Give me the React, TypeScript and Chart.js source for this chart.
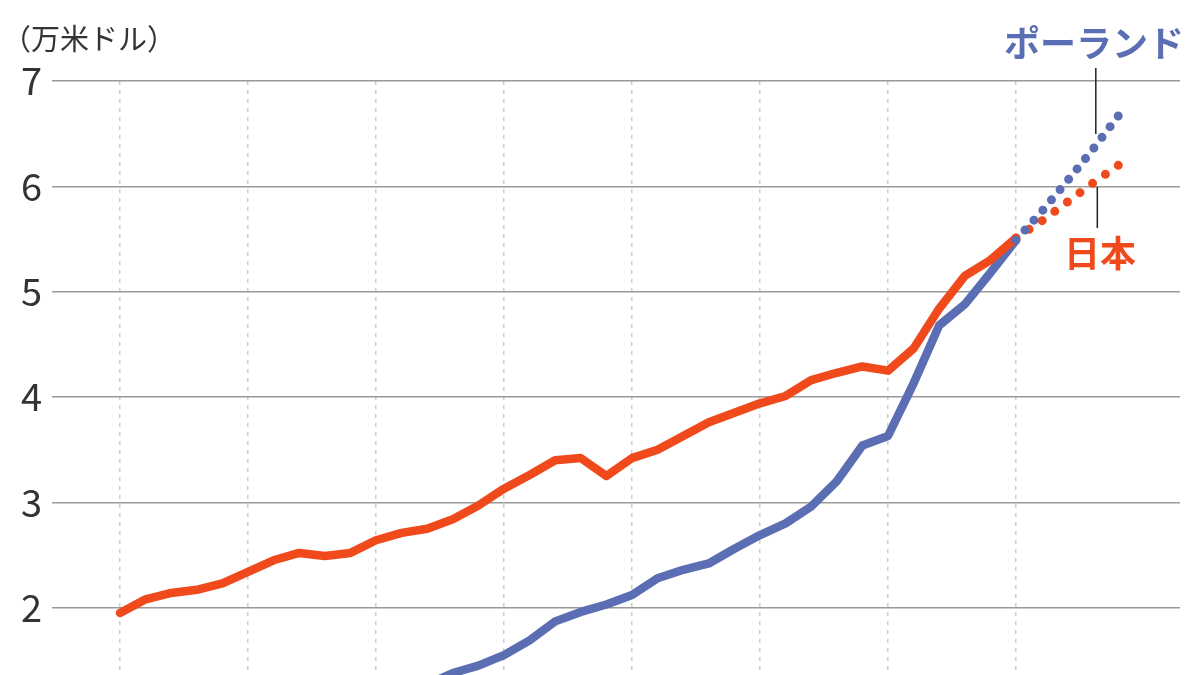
import { useEffect, useRef } from "react";
import { Chart, registerables } from "chart.js";
Chart.register(...registerables);

// 1990-2025 actual, 2025-2029 IMF projection (dotted)
const years = [
  1990, 1991, 1992, 1993, 1994, 1995, 1996, 1997, 1998, 1999,
  2000, 2001, 2002, 2003, 2004, 2005, 2006, 2007, 2008, 2009,
  2010, 2011, 2012, 2013, 2014, 2015, 2016, 2017, 2018, 2019,
  2020, 2021, 2022, 2023, 2024, 2025,
];
const projYears = [2025, 2026, 2027, 2028, 2029];

// 1人当たりGDP（万米ドル）
const japan = [
  1.95, 2.08, 2.14, 2.17, 2.23, 2.34, 2.45, 2.52, 2.49, 2.52,
  2.64, 2.71, 2.75, 2.84, 2.97, 3.13, 3.26, 3.4, 3.42, 3.25,
  3.42, 3.5, 3.63, 3.76, 3.85, 3.94, 4.01, 4.16, 4.23, 4.29,
  4.25, 4.46, 4.84, 5.15, 5.3, 5.51,
];
const poland = [
  null, null, null, null, null, null, null, null, null, null,
  null, null, 1.27, 1.38, 1.45, 1.55, 1.69, 1.87, 1.96, 2.03,
  2.12, 2.28, 2.36, 2.42, 2.56, 2.69, 2.8, 2.96, 3.2, 3.54,
  3.63, 4.13, 4.68, 4.88, 5.18, 5.49,
];
const japanProj = [5.51, 5.67, 5.85, 6.03, 6.2];
const polandProj = [5.49, 5.76, 6.05, 6.35, 6.67];

const yTicks = [2, 3, 4, 5, 6, 7];
const gridYears = [1990, 1995, 2000, 2005, 2010, 2015, 2020, 2025];

const ORANGE = "#f04a1c";
const BLUE = "#5b6db3";
const FONT = '"Noto Sans CJK JP", "Noto Sans", sans-serif';

const labelsPlugin = {
  id: "labels",
  afterDraw(chart: any) {
    const { ctx } = chart;
    const xs = chart.scales.x;
    ctx.save();
    ctx.fillStyle = "#333";
    ctx.font = `400 29px ${FONT}`;
    ctx.textAlign = "left";
    ctx.textBaseline = "middle";
    ctx.fillText("（万米ドル）", 2, 39);

    ctx.font = `700 36px ${FONT}`;
    ctx.fillStyle = BLUE;
    ctx.textAlign = "right";
    ctx.fillText("ポーランド", 1184, 43);
    ctx.fillStyle = ORANGE;
    ctx.textAlign = "center";
    ctx.fillText("日本", 1100, 253);

    const lx = xs.getPixelForValue(2028) + 3;
    ctx.strokeStyle = "#222";
    ctx.lineWidth = 1.5;
    ctx.beginPath();
    ctx.moveTo(lx, 68);
    ctx.lineTo(lx, 134);
    ctx.moveTo(lx + 1.5, 187);
    ctx.lineTo(lx + 1.5, 228);
    ctx.stroke();
    ctx.restore();
  },
};

export default function App() {
  const ref = useRef<HTMLCanvasElement | null>(null);

  useEffect(() => {
    if (!ref.current) return;
    const pts = (xs: number[], ys: (number | null)[]) => xs.map((x, i) => ({ x, y: ys[i] }));
    const solid = { borderWidth: 8.5, pointRadius: 0, borderJoinStyle: "round", borderCapStyle: "round", tension: 0 };
    const dotted = { borderWidth: 9, pointRadius: 0, borderCapStyle: "round", tension: 0 };

    const chart = new Chart(ref.current, {
      type: "line",
      data: {
        datasets: [
          { label: "ポーランド予測", data: pts(projYears, polandProj), borderColor: BLUE, borderDash: [0, 13.4], order: 0, ...dotted },
          { label: "日本", data: pts(years, japan), borderColor: ORANGE, order: 1, ...solid },
          { label: "日本予測", data: pts(projYears, japanProj), borderColor: ORANGE, borderDash: [0, 15.68], order: 2, ...dotted },
          { label: "ポーランド", data: pts(years, poland), borderColor: BLUE, order: 3, ...solid },
        ] as any,
      },
      options: {
        animation: false,
        responsive: true,
        maintainAspectRatio: false,
        layout: { padding: { top: 81, right: 20, left: 0, bottom: 0 } },
        plugins: { legend: { display: false }, tooltip: { enabled: false } },
        scales: {
          x: {
            type: "linear",
            min: 1987.344,
            max: 2031.406,
            afterBuildTicks: (axis: any) => { axis.ticks = gridYears.map((v) => ({ value: v })); },
            afterFit: (axis: any) => { axis.height = 0; axis.paddingLeft = 0; axis.paddingRight = 0; },
            ticks: { display: false },
            grid: { color: "#cccccc", lineWidth: 1.5, drawTicks: false },
            border: { display: false, dash: [4, 5] },
          },
          y: {
            min: 1.361,
            max: 7,
            afterBuildTicks: (axis: any) => { axis.ticks = yTicks.map((v) => ({ value: v })); },
            afterFit: (axis: any) => { axis.width = 52; axis.paddingTop = 0; axis.paddingBottom = 0; },
            ticks: { color: "#333", font: { family: FONT, size: 38, weight: 400 }, padding: 10 },
            grid: { color: "#999", lineWidth: 1.5, drawTicks: false },
            border: { display: false },
          },
        },
      } as any,
      plugins: [labelsPlugin],
    });
    return () => chart.destroy();
  }, []);

  return (
    <div style={{ position: "fixed", left: 0, top: 0, width: 1200, height: 675, background: "#fff" }}>
      <canvas ref={ref} />
    </div>
  );
}
